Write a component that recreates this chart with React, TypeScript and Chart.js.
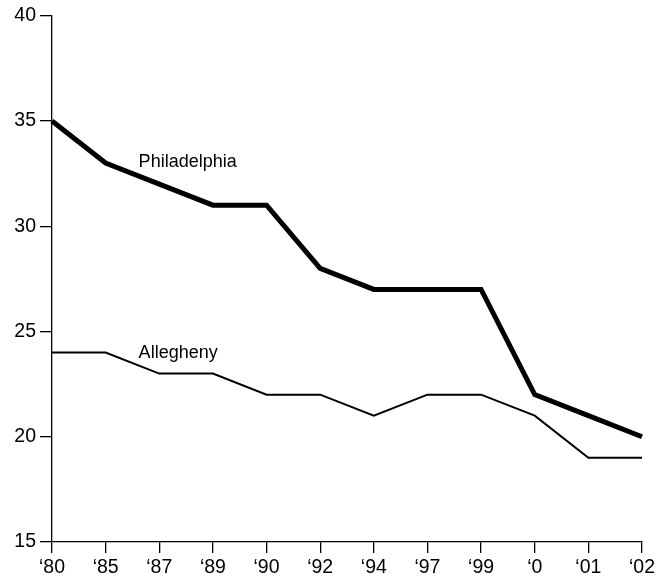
import React, { useEffect, useRef } from "react";
import { Chart, registerables } from "chart.js";

Chart.register(...registerables);

const categories = ["‘80", "‘85", "‘87", "‘89", "‘90", "‘92", "‘94", "‘97", "‘99", "‘0", "‘01", "‘02"];
const philadelphia = [35, 33, 32, 31, 31, 28, 27, 27, 27, 22, 21, 20];
const allegheny = [24, 24, 23, 23, 22, 22, 21, 22, 22, 21, 19, 19];
const yTicks = [15, 20, 25, 30, 35, 40];
const seriesLabels = [
  { text: "Philadelphia", x: 1.615, y: 33.05 },
  { text: "Allegheny", x: 1.615, y: 24.0 },
];

const FONT = "'Liberation Sans', Arial, Helvetica, sans-serif";

const labelPlugin = {
  id: "seriesLabels",
  afterDatasetsDraw(chart: any) {
    const { ctx, scales } = chart;
    ctx.save();
    ctx.fillStyle = "#000";
    ctx.font = `18px ${FONT}`;
    ctx.textAlign = "left";
    ctx.textBaseline = "middle";
    for (const l of seriesLabels) {
      ctx.fillText(l.text, scales.x.getPixelForValue(l.x), scales.y.getPixelForValue(l.y));
    }
    ctx.restore();
  },
};

export default function App() {
  const ref = useRef<HTMLCanvasElement | null>(null);
  useEffect(() => {
    if (!ref.current) return;
    const chart = new Chart(ref.current, {
      type: "line",
      data: {
        labels: categories,
        datasets: [
          {
            label: "Philadelphia",
            data: philadelphia,
            borderColor: "#000",
            borderWidth: 5,
            pointRadius: 0,
            tension: 0,
            fill: false,
            borderJoinStyle: "miter",
          },
          {
            label: "Allegheny",
            data: allegheny,
            borderColor: "#000",
            borderWidth: 2,
            pointRadius: 0,
            tension: 0,
            fill: false,
          },
        ],
      },
      options: {
        animation: false,
        responsive: false,
        devicePixelRatio: 1,
        layout: { padding: { top: 15, right: 26, left: 0, bottom: 0 } },
        plugins: { legend: { display: false }, tooltip: { enabled: false } },
        scales: {
          x: {
            offset: false,
            border: { display: true, color: "#000", width: 1.3 },
            grid: { drawOnChartArea: false, tickLength: 11, color: "#000", lineWidth: 1.3 },
            ticks: { color: "#000", font: { family: FONT, size: 19.5 }, padding: 3, maxRotation: 0, autoSkip: false },
            afterFit(scale: any) {
              scale.height = 40;
            },
          },
          y: {
            min: 15,
            max: 40,
            afterBuildTicks(scale: any) {
              scale.ticks = yTicks.map((v) => ({ value: v }));
            },
            border: { display: true, color: "#000", width: 1.3 },
            grid: { drawOnChartArea: false, tickLength: 12, color: "#000", lineWidth: 1.3 },
            ticks: { color: "#000", font: { family: FONT, size: 19.5 }, padding: 4 },
            afterFit(scale: any) {
              scale.width = 52;
            },
          },
        },
      },
      plugins: [labelPlugin],
    } as any);
    return () => chart.destroy();
  }, []);
  return (
    <div style={{ position: "absolute", left: 0, top: 0, width: 668, height: 582, background: "#fff" }}>
      <canvas ref={ref} width={668} height={582} style={{ width: 668, height: 582 }} />
    </div>
  );
}
